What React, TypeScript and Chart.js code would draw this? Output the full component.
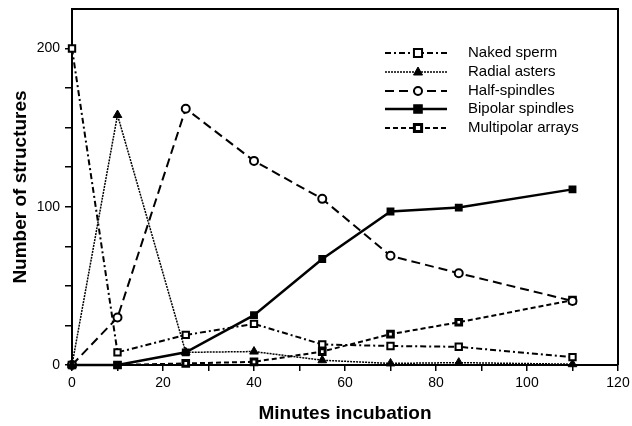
import React, { useEffect, useRef } from "react";
import { Chart, registerables } from "chart.js";

Chart.register(...registerables);

const times = [0, 10, 25, 40, 55, 70, 85, 110];
const nakedSperm = [200, 8, 19, 26, 13, 12, 11.5, 5];
const radialAsters = [0, 158, 8, 8.5, 3, 1, 1.5, 0.5];
const halfSpindles = [0, 30, 162, 129, 105, 69, 58, 40.5];
const bipolarSpindles = [0, 0, 8, 31.5, 67, 97, 99.5, 111];
const multipolarArrays = [0, 0, 1, 2, 8.5, 19.5, 27, 41];

const seriesNames = [
  "Naked sperm",
  "Radial asters",
  "Half-spindles",
  "Bipolar spindles",
  "Multipolar arrays",
];

const xLabelTicks = [0, 20, 40, 60, 80, 100, 120];
const yLabelTicks = [0, 100, 200];
const Y_MAX = 225;

const FONT = "'Liberation Sans', Arial, Helvetica, sans-serif";

const toXY = (vals: number[]) => times.map((t, i) => ({ x: t, y: vals[i] }));

const styles = [
  { dash: [6, 3, 2, 3], width: 2, point: "rect", radius: 4.5, bg: "#fff", bw: 2 },
  { dash: [2, 1], width: 1.5, point: "triangle", radius: 5, bg: "#000", bw: 1 },
  { dash: [9, 5], width: 2, point: "circle", radius: 4, bg: "#fff", bw: 2 },
  { dash: [], width: 2.5, point: "rect", radius: 4.5, bg: "#000", bw: 1.5 },
  { dash: [5, 3], width: 2, point: "rect", radius: 4, bg: "#fff", bw: 3 },
];

const legendPlugin = {
  id: "customLegend",
  afterDraw(chart: any) {
    const ctx = chart.ctx;
    const rows = [53, 72, 91, 109, 128];
    ctx.save();
    chart.data.datasets.forEach((ds: any, i: number) => {
      const y = rows[i];
      const st = styles[i];
      ctx.strokeStyle = "#000";
      ctx.lineWidth = st.width;
      ctx.setLineDash(st.dash);
      ctx.beginPath();
      ctx.moveTo(385, y);
      ctx.lineTo(447, y);
      ctx.stroke();
      ctx.setLineDash([]);
      ctx.fillStyle = st.bg;
      ctx.lineWidth = st.bw;
      const r = st.radius;
      ctx.beginPath();
      if (st.point === "rect") {
        ctx.rect(418 - r * 0.9, y - r * 0.9, r * 1.8, r * 1.8);
      } else if (st.point === "circle") {
        ctx.arc(418, y, r, 0, Math.PI * 2);
      } else {
        ctx.moveTo(418, y - r);
        ctx.lineTo(418 + r * 0.9, y + r * 0.6);
        ctx.lineTo(418 - r * 0.9, y + r * 0.6);
        ctx.closePath();
      }
      ctx.fill();
      ctx.stroke();
      ctx.fillStyle = "#000";
      ctx.font = `15px ${FONT}`;
      ctx.textBaseline = "middle";
      ctx.textAlign = "left";
      ctx.fillText(ds.label, 468, y);
    });
    ctx.restore();
  },
};

const framePlugin = {
  id: "frame",
  afterDraw(chart: any) {
    const { ctx, chartArea } = chart;
    ctx.save();
    ctx.strokeStyle = "#000";
    ctx.lineWidth = 2;
    ctx.beginPath();
    ctx.moveTo(chartArea.left - 1, chartArea.top);
    ctx.lineTo(chartArea.right, chartArea.top);
    ctx.lineTo(chartArea.right, chartArea.bottom);
    ctx.stroke();
    ctx.restore();
  },
};

export default function App() {
  const ref = useRef<HTMLCanvasElement | null>(null);
  useEffect(() => {
    if (!ref.current) return;
    const allSeries = [nakedSperm, radialAsters, halfSpindles, bipolarSpindles, multipolarArrays];
    const chart = new Chart(ref.current, {
      type: "line",
      data: {
        datasets: allSeries.map((vals, i) => ({
          label: seriesNames[i],
          data: toXY(vals),
          borderColor: "#000",
          borderWidth: styles[i].width,
          borderDash: styles[i].dash,
          pointStyle: styles[i].point as any,
          pointRadius: styles[i].radius,
          pointBackgroundColor: styles[i].bg,
          pointBorderColor: "#000",
          pointBorderWidth: styles[i].bw,
          tension: 0,
          fill: false,
          clip: false as any,
        })),
      },
      options: {
        responsive: false,
        animation: false,
        maintainAspectRatio: false,
        layout: { padding: { top: 9, right: 14, left: 0, bottom: 0 } },
        plugins: {
          legend: { display: false },
          tooltip: { enabled: false },
        },
        scales: {
          x: {
            type: "linear",
            min: 0,
            max: 120,
            afterFit(scale: any) {
              scale.height = 61;
              scale.paddingLeft = 0;
              scale.paddingRight = 0;
            },
            border: { display: true, color: "#000", width: 2 },
            grid: {
              drawOnChartArea: false,
              drawTicks: true,
              tickLength: 6,
              color: "#000",
              lineWidth: 1.5,
            },
            ticks: {
              stepSize: 10,
              autoSkip: false,
              maxRotation: 0,
              padding: 4,
              color: "#000",
              font: { family: FONT, size: 14 },
              callback: (v: any) => (xLabelTicks.includes(Number(v)) ? String(v) : ""),
            },
            title: {
              display: true,
              text: "Minutes incubation",
              color: "#000",
              font: { family: FONT, size: 19, weight: "bold" },
              padding: { top: 0, bottom: 1 },
            },
          },
          y: {
            type: "linear",
            min: 0,
            max: Y_MAX,
            afterFit(scale: any) {
              scale.width = 72;
              scale.paddingTop = 0;
              scale.paddingBottom = 0;
            },
            border: { display: true, color: "#000", width: 2 },
            grid: {
              drawOnChartArea: false,
              drawTicks: true,
              tickLength: 7,
              color: (c: any) => (c.tick && c.tick.value === Y_MAX ? "rgba(0,0,0,0)" : "#000"),
              lineWidth: 1.5,
            },
            ticks: {
              stepSize: 25,
              autoSkip: false,
              padding: 5,
              color: "#000",
              font: { family: FONT, size: 14 },
              callback: (v: any) => (yLabelTicks.includes(Number(v)) ? String(v) : ""),
            },
            title: {
              display: true,
              text: "Number of structures",
              color: "#000",
              font: { family: FONT, size: 19, weight: "bold" },
              padding: { top: 9, bottom: 0 },
            },
          },
        },
      },
      plugins: [legendPlugin, framePlugin],
    });
    return () => chart.destroy();
  }, []);

  return (
    <div style={{ position: "fixed", left: 0, top: 0, width: 632, height: 426, background: "#fff" }}>
      <canvas ref={ref} width={632} height={426} style={{ display: "block" }} />
    </div>
  );
}
